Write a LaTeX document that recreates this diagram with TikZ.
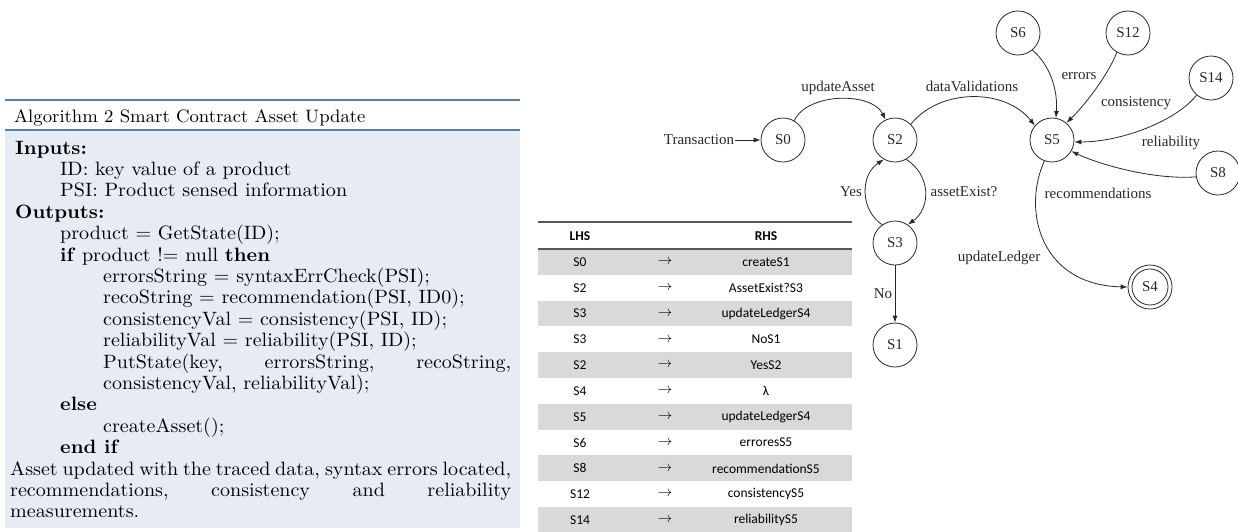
\documentclass[tikz,border=0pt]{standalone}
\usepackage{fontspec}
\usetikzlibrary{arrows.meta}
\newfontfamily\tabfont{Carlito}
\newfontfamily\grfont{Liberation Serif}
\newfontfamily\lstfamily{lmroman10}[Extension=.otf, UprightFont=*-regular, BoldFont=*-bold, FakeStretch=1.04]
\newcommand\palfont{\lstfamily\fontsize{19.3}{21.4}\selectfont}
\definecolor{lstbg}{RGB}{231,235,244}
\definecolor{lstline}{RGB}{79,129,189}
\definecolor{rowgray}{RGB}{217,217,217}
\definecolor{rulecol}{RGB}{89,89,89}
\definecolor{ink}{RGB}{40,40,40}
\tikzset{
  lst/.style={anchor=base west, inner sep=0pt, font=\palfont},
  st/.style={circle, draw=ink, line width=0.8pt, minimum size=44pt, inner sep=0pt, text=ink, font=\grfont\fontsize{15}{18}\selectfont},
  lbl/.style={inner sep=1pt, text=ink, font=\grfont\fontsize{15}{18}\selectfont},
  arr/.style={draw=ink, line width=0.8pt, -{Latex[length=7pt,width=5pt]}},
  cell/.style={inner sep=0pt, font=\tabfont\fontsize{13.5}{16}\selectfont},
}
\begin{document}
\begin{tikzpicture}[x=1pt,y=-1pt]
\useasboundingbox (0,0) rectangle (1238,531);
% ---------------- listing ----------------
\fill[lstbg] (5,130) rectangle (520,528);
\draw[lstline, line width=1.2pt] (5,100) -- (520,100);
\draw[lstline, line width=1.2pt] (5,130) -- (520,130);
\node[lst, font=\lstfamily\fontsize{18}{21}\selectfont] (title) at (14,122) {Algorithm 2 Smart Contract Asset Update};
\node[lst] (l0)  at (15,154)   {\textbf{Inputs:}};
\node[lst] (l1)  at (60,175.4) {ID: key value of a product};
\node[lst] (l2)  at (60,196.8) {PSI: Product sensed information};
\node[lst] (l3)  at (15,218.2) {\textbf{Outputs:}};
\node[lst] (l4)  at (60,239.6) {product = GetState(ID);};
\node[lst] (l5)  at (60,261)   {\textbf{if} product != null \textbf{then}};
\node[lst] (l6)  at (103,282.4) {errorsString = syntaxErrCheck(PSI);};
\node[lst] (l7)  at (103,303.8) {recoString = recommendation(PSI, ID0);};
\node[lst] (l8)  at (103,325.2) {consistencyVal = consistency(PSI, ID);};
\node[lst] (l9)  at (103,346.6) {reliabilityVal = reliability(PSI, ID);};
\node[lst] (l10) at (103,368)   {\hbox to 408pt{PutState(key,\hfill errorsString,\hfill recoString,}};
\node[lst] (l11) at (103,389.4) {consistencyVal, reliabilityVal);};
\node[lst] (l12) at (60,410.8) {\textbf{else}};
\node[lst] (l13) at (103,432.2) {createAsset();};
\node[lst] (l14) at (60,453.6) {\textbf{end if}};
\node[lst] (l15) at (10,475)    {\makebox[501pt][s]{Asset updated with the traced data, syntax errors located,}};
\node[lst] (l16) at (10,496.4)  {\hbox to 501pt{recommendations,\hfill consistency\hfill and\hfill reliability}};
\node[lst] (l17) at (10,517.8)  {measurements.};
% ---------------- table ----------------
\foreach \i in {0,2,4,6,8,10}{
  \fill[rowgray] (538,{249+25.8*\i}) rectangle (852,{249+25.8*(\i+1)});
}
\draw[rulecol, line width=1.5pt] (538,222) -- (852,222);
\draw[rulecol, line width=2pt] (538,249) -- (852,249);
\node[cell] (hl) at (580,236) {\bfseries LHS};
\node[cell] (hr) at (766,236) {\bfseries RHS};
\foreach \i/\l/\r in {0/S0/createS1, 1/S2/AssetExist?S3, 2/S3/updateLedgerS4, 3/S3/NoS1, 4/S2/YesS2, 5/S4/λ, 6/S5/updateLedgerS4, 7/S6/erroresS5, 8/S8/recommendationS5, 9/S12/consistencyS5, 10/S14/reliabilityS5}{
  \node[cell] (tl\i) at (580,{262+25.8*\i}) {\l};
  \node[cell] (ta\i) at (665,{262+25.8*\i}) {$\rightarrow$};
  \node[cell] (tr\i) at (766,{262+25.8*\i}) {\r};
}
% ---------------- graph ----------------
\node[st] (S0)  at (783,140) {S0};
\node[st] (S2)  at (895,140) {S2};
\node[st] (S5)  at (1052,140) {S5};
\node[st] (S3)  at (895,243) {S3};
\node[st] (S1)  at (895,345) {S1};
\node[st] (S6)  at (1018,33) {S6};
\node[st] (S12) at (1128,33) {S12};
\node[st] (S14) at (1211,78) {S14};
\node[st] (S8)  at (1218,173) {S8};
\node[st] (S4)  at (1150,287) {S4};
\draw[ink, line width=0.8pt] (S4.center) circle[radius=18pt];

\node[lbl] (tr)   at (699,140) {Transaction};
\node[lbl] (lua)  at (838,88)  {updateAsset};
\node[lbl] (ldv)  at (972,86)  {dataValidations};
\node[lbl] (ler)  at (1079,76) {errors};
\node[lbl] (lco)  at (1136,103) {consistency};
\node[lbl] (lre)  at (1171,143) {reliability};
\node[lbl] (lrc)  at (1098,193) {recommendations};
\node[lbl] (lye)  at (851,192) {Yes};
\node[lbl] (lae)  at (964,192) {assetExist?};
\node[lbl] (lno)  at (883,294) {No};
\node[lbl] (lul)  at (999,258) {updateLedger};

\draw[arr] (tr.east) -- (S0.west);
\draw[arr] (S0.60) .. controls (808,92) and (872,92) .. (S2.115);
\draw[arr] (S2.45) .. controls (940,88) and (1005,88) .. (S5.140);
\draw[arr] (S2.-60) .. controls (931,175) and (931,208) .. (S3.55);
\draw[arr] (S3.125) .. controls (860,210) and (860,175) .. (S2.-120);
\draw[arr] (S3) -- (S1);
\draw[arr] (S6.-50) .. controls (1050,65) and (1058,90) .. (S5.80);
\draw[arr] (S12.-120) .. controls (1108,75) and (1085,105) .. (S5.50);
\draw[arr] (S14.-130) .. controls (1175,122) and (1120,142) .. (S5.-5);
\draw[arr] (S8.190) .. controls (1150,180) and (1096,163) .. (S5.-30);
\draw[arr] (S5.-110) .. controls (1022,210) and (1040,285) .. (S4.180);
\end{tikzpicture}
\end{document}
